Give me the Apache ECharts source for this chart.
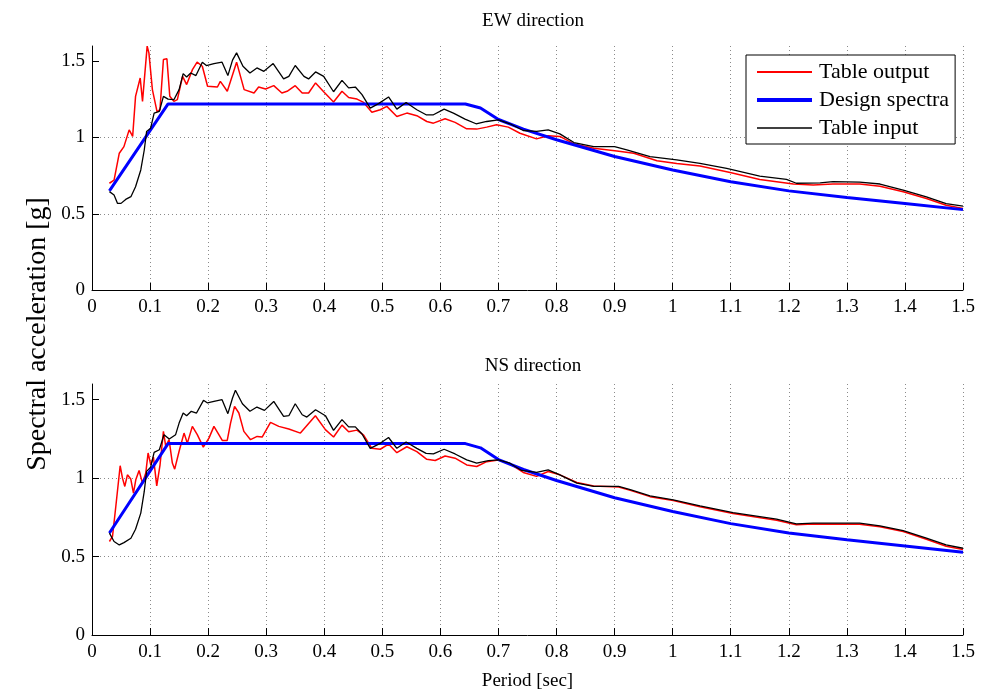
<!DOCTYPE html>
<html>
<head>
<meta charset="utf-8">
<script src="https://cdn.jsdelivr.net/npm/echarts@6/dist/echarts.min.js"></script>
<style>html,body{margin:0;padding:0;background:#fff}#c{width:999px;height:694px}</style>
</head>
<body>
<div id="c"></div>
<script>
var seriesNames = ['Table output', 'Design spectra', 'Table input'];
var panelTitles = ['EW direction', 'NS direction'];
var yTickValues = [0, 0.5, 1, 1.5];

var designSpectra = [[0.03,0.65],[0.131,1.22],[0.643,1.22],[0.669,1.193],[0.7,1.118],[0.743,1.055],[0.8,0.985],[0.9,0.875],[1.0,0.787],[1.1,0.71],[1.2,0.65],[1.3,0.607],[1.4,0.567],[1.5,0.527]];

var ewOutput = [[0.030,0.70],[0.038,0.72],[0.047,0.897],[0.055,0.94],[0.064,1.05],[0.070,1.007],[0.075,1.27],[0.083,1.39],[0.087,1.237],[0.095,1.599],[0.098,1.555],[0.104,1.314],[0.112,1.17],[0.117,1.182],[0.123,1.511],[0.129,1.516],[0.134,1.27],[0.141,1.237],[0.147,1.248],[0.156,1.401],[0.163,1.347],[0.173,1.445],[0.181,1.494],[0.190,1.467],[0.199,1.336],[0.216,1.331],[0.221,1.368],[0.233,1.303],[0.249,1.494],[0.262,1.314],[0.279,1.292],[0.287,1.331],[0.299,1.318],[0.313,1.34],[0.327,1.292],[0.336,1.303],[0.350,1.34],[0.362,1.292],[0.373,1.292],[0.385,1.358],[0.399,1.30],[0.416,1.233],[0.4305,1.303],[0.442,1.262],[0.4563,1.252],[0.4678,1.23],[0.482,1.165],[0.4964,1.182],[0.5078,1.204],[0.525,1.138],[0.5422,1.16],[0.5594,1.143],[0.5766,1.105],[0.588,1.094],[0.6081,1.123],[0.6253,1.099],[0.6453,1.057],[0.6625,1.055],[0.6797,1.068],[0.6968,1.083],[0.7169,1.068],[0.737,1.028],[0.7656,0.991],[0.7856,1.011],[0.8057,1.007],[0.83,0.958],[0.864,0.93],[0.904,0.912],[0.933,0.897],[0.973,0.848],[1.007,0.83],[1.047,0.813],[1.099,0.77],[1.15,0.725],[1.208,0.695],[1.242,0.688],[1.276,0.695],[1.322,0.695],[1.357,0.68],[1.397,0.644],[1.437,0.60],[1.471,0.556],[1.5,0.534]];

var ewInput = [[0.030,0.645],[0.038,0.623],[0.044,0.568],[0.050,0.568],[0.058,0.594],[0.067,0.612],[0.075,0.677],[0.084,0.787],[0.090,0.918],[0.094,1.039],[0.101,1.061],[0.107,1.16],[0.116,1.171],[0.123,1.27],[0.131,1.252],[0.141,1.248],[0.150,1.314],[0.157,1.419],[0.163,1.397],[0.170,1.423],[0.179,1.406],[0.190,1.494],[0.197,1.472],[0.210,1.485],[0.224,1.494],[0.234,1.406],[0.242,1.507],[0.249,1.555],[0.260,1.467],[0.272,1.423],[0.284,1.456],[0.296,1.434],[0.312,1.485],[0.330,1.384],[0.339,1.401],[0.350,1.472],[0.365,1.401],[0.373,1.384],[0.385,1.43],[0.399,1.401],[0.416,1.30],[0.4305,1.375],[0.442,1.325],[0.4535,1.331],[0.465,1.281],[0.4792,1.193],[0.4935,1.222],[0.5107,1.266],[0.525,1.186],[0.541,1.23],[0.5594,1.182],[0.5754,1.149],[0.588,1.149],[0.6064,1.186],[0.6224,1.16],[0.6424,1.121],[0.6614,1.09],[0.6797,1.105],[0.6997,1.116],[0.7198,1.09],[0.7427,1.046],[0.7656,1.04],[0.7856,1.05],[0.8057,1.024],[0.83,0.967],[0.864,0.94],[0.9,0.94],[0.921,0.919],[0.961,0.875],[1.007,0.853],[1.047,0.83],[1.093,0.798],[1.15,0.747],[1.196,0.725],[1.213,0.70],[1.254,0.703],[1.276,0.71],[1.322,0.708],[1.357,0.695],[1.397,0.655],[1.437,0.61],[1.471,0.567],[1.5,0.55]];

var nsOutput = [[0.030,0.596],[0.0353,0.628],[0.041,0.819],[0.0485,1.079],[0.0525,1.0],[0.0565,0.947],[0.061,1.021],[0.0668,0.994],[0.0714,0.904],[0.0754,0.989],[0.0811,1.049],[0.0869,0.968],[0.0926,1.032],[0.0966,1.16],[0.1012,1.085],[0.1058,1.134],[0.1115,0.951],[0.1172,1.085],[0.123,1.298],[0.127,1.202],[0.1327,1.245],[0.1384,1.096],[0.1424,1.057],[0.1499,1.17],[0.1585,1.287],[0.1642,1.223],[0.1728,1.33],[0.1813,1.277],[0.1917,1.198],[0.2014,1.255],[0.21,1.33],[0.2169,1.287],[0.2243,1.24],[0.2329,1.24],[0.2386,1.351],[0.2455,1.457],[0.2529,1.415],[0.2615,1.298],[0.273,1.245],[0.2844,1.266],[0.293,1.262],[0.3074,1.355],[0.3217,1.33],[0.3389,1.313],[0.3589,1.287],[0.3847,1.398],[0.4019,1.309],[0.416,1.262],[0.4305,1.338],[0.442,1.295],[0.4563,1.306],[0.4678,1.274],[0.482,1.19],[0.4964,1.184],[0.5107,1.217],[0.525,1.162],[0.5422,1.20],[0.5594,1.169],[0.5766,1.12],[0.591,1.112],[0.6081,1.141],[0.6253,1.127],[0.6453,1.084],[0.6625,1.074],[0.6797,1.105],[0.6997,1.116],[0.7198,1.091],[0.7427,1.036],[0.7656,1.011],[0.7856,1.042],[0.8057,1.021],[0.835,0.972],[0.864,0.95],[0.907,0.943],[0.927,0.922],[0.961,0.882],[1.001,0.858],[1.047,0.818],[1.104,0.774],[1.179,0.732],[1.213,0.703],[1.242,0.707],[1.322,0.706],[1.357,0.69],[1.397,0.66],[1.437,0.61],[1.471,0.566],[1.5,0.545]];

var nsInput = [[0.030,0.649],[0.038,0.596],[0.047,0.574],[0.055,0.589],[0.067,0.617],[0.075,0.674],[0.084,0.777],[0.090,0.915],[0.094,1.043],[0.101,1.07],[0.107,1.164],[0.116,1.181],[0.124,1.277],[0.133,1.249],[0.144,1.277],[0.150,1.351],[0.157,1.415],[0.163,1.398],[0.171,1.426],[0.180,1.415],[0.192,1.496],[0.199,1.479],[0.210,1.489],[0.224,1.50],[0.234,1.411],[0.242,1.511],[0.247,1.56],[0.259,1.474],[0.272,1.426],[0.284,1.453],[0.297,1.432],[0.313,1.489],[0.330,1.394],[0.339,1.398],[0.350,1.474],[0.362,1.404],[0.370,1.389],[0.385,1.436],[0.402,1.398],[0.416,1.304],[0.4305,1.373],[0.442,1.327],[0.4535,1.327],[0.465,1.281],[0.4792,1.19],[0.4964,1.222],[0.5107,1.259],[0.525,1.19],[0.541,1.23],[0.5594,1.19],[0.5754,1.158],[0.588,1.154],[0.6064,1.184],[0.6253,1.154],[0.6453,1.116],[0.6625,1.095],[0.6826,1.112],[0.6997,1.116],[0.7198,1.095],[0.7399,1.049],[0.7656,1.036],[0.7856,1.053],[0.8057,1.021],[0.835,0.968],[0.864,0.947],[0.907,0.947],[0.927,0.926],[0.961,0.887],[1.001,0.862],[1.047,0.823],[1.104,0.78],[1.179,0.738],[1.213,0.709],[1.242,0.713],[1.322,0.713],[1.357,0.696],[1.397,0.666],[1.437,0.617],[1.471,0.574],[1.5,0.553]];

var FONT = '"Liberation Serif", "DejaVu Serif", serif';
var chart = echarts.init(document.getElementById('c'), null, {renderer: 'canvas'});

function xAx(idx, withName) {
  var a = {
    type: 'value', gridIndex: idx, min: 0, max: 1.5, interval: 0.1,
    axisLine: {show: true, onZero: false, lineStyle: {color: '#000', width: 1}},
    axisTick: {show: true, inside: true, length: 7, lineStyle: {color: '#000'}},
    axisLabel: {color: '#000', fontFamily: FONT, fontSize: 19, margin: 8,
      formatter: function (v) { return String(Math.round(v * 10) / 10); }},
    splitLine: {show: true, lineStyle: {color: '#8a8a8a', type: [1, 3], width: 1}}
  };
  if (withName) {
    a.name = 'Period [sec]';
    a.nameLocation = 'middle';
    a.nameGap = 37;
    a.nameTextStyle = {color: '#000', fontFamily: FONT, fontSize: 19};
  }
  return a;
}
function yAx(idx) {
  return {
    type: 'value', gridIndex: idx, min: 0, max: 1.6, interval: 0.5,
    axisLine: {show: true, onZero: false, lineStyle: {color: '#000', width: 1}},
    axisTick: {show: true, inside: true, length: 7, lineStyle: {color: '#000'}, customValues: yTickValues},
    axisLabel: {color: '#000', fontFamily: FONT, fontSize: 19, margin: 7, customValues: yTickValues,
      formatter: function (v) { return v > 1.55 ? '' : String(v); }},
    splitLine: {show: true, showMaxLine: false, lineStyle: {color: '#8a8a8a', type: [1, 3], width: 1}}
  };
}
function ser(name, data, idx, color, width) {
  return {
    name: name, type: 'line', data: data, xAxisIndex: idx, yAxisIndex: idx,
    showSymbol: false, symbol: 'none', smooth: false, animation: false,
    lineStyle: {color: color, width: width}, itemStyle: {color: color}, z: 3
  };
}

chart.setOption({
  animation: false,
  backgroundColor: '#fff',
  title: [
    {text: panelTitles[0], left: 528, top: 7, textAlign: 'center',
      textStyle: {fontFamily: FONT, fontSize: 19, fontWeight: 'normal', color: '#000'}},
    {text: panelTitles[1], left: 528, top: 352, textAlign: 'center',
      textStyle: {fontFamily: FONT, fontSize: 19, fontWeight: 'normal', color: '#000'}}
  ],
  grid: [
    {left: 92, right: 36, top: 46, height: 244},
    {left: 92, right: 36, top: 384, height: 251}
  ],
  xAxis: [xAx(0, false), xAx(1, true)],
  yAxis: [yAx(0), yAx(1)],
  legend: {
    data: [
      {name: seriesNames[0], lineStyle: {width: 2}},
      {name: seriesNames[1], lineStyle: {width: 4}},
      {name: seriesNames[2], lineStyle: {width: 1.5}}
    ],
    orient: 'vertical', left: 746, top: 55,
    backgroundColor: '#fff', borderColor: '#000', borderWidth: 1,
    padding: [6, 6, 5, 9], itemGap: 6, itemWidth: 55, itemHeight: 14,
    itemStyle: {opacity: 0},
    textStyle: {fontFamily: FONT, fontSize: 22, color: '#000', padding: [0, 0, 0, 2]}
  },
  graphic: [
    {type: 'text', x: 38, y: 334, rotation: Math.PI / 2,
      style: {text: 'Spectral acceleration [g]', fill: '#000', font: '28px ' + FONT,
        textAlign: 'center', textVerticalAlign: 'middle'}}
  ],
  series: [
    ser(seriesNames[0], ewOutput, 0, '#ff0000', 1.5),
    ser(seriesNames[1], designSpectra, 0, '#0000ff', 3),
    ser(seriesNames[2], ewInput, 0, '#000000', 1.3),
    ser(seriesNames[0], nsOutput, 1, '#ff0000', 1.5),
    ser(seriesNames[1], designSpectra, 1, '#0000ff', 3),
    ser(seriesNames[2], nsInput, 1, '#000000', 1.3)
  ]
});
</script>
</body>
</html>
